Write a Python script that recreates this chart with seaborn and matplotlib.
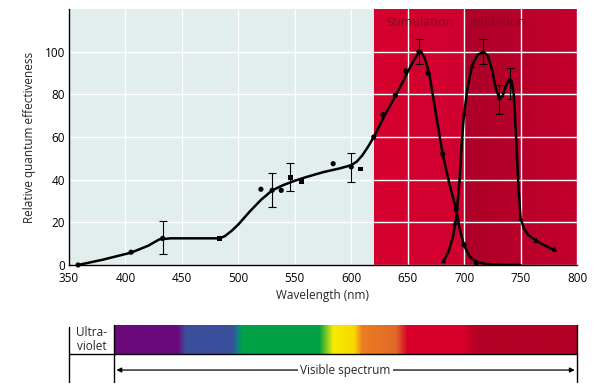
import numpy as np
import pandas as pd
import matplotlib
matplotlib.use("Agg")
import matplotlib.pyplot as plt
import seaborn as sns
from matplotlib.colors import LinearSegmentedColormap, to_rgb

# ---------------- data ----------------
# smooth curve vertices
curve_a_x = [358, 380, 405, 420, 430, 440, 483, 488, 494, 500, 510, 520, 530, 540, 550, 560, 575, 590, 600,
             605, 610, 615, 620, 630, 640, 650, 655, 659, 662, 665, 669, 675, 681, 687, 693, 696, 700,
             705, 711, 720, 735, 750]
curve_a_y = [0, 2.5, 5.8, 9, 12, 12.5, 12.5, 13.5, 16, 19, 25, 30.5, 35, 37.5, 39.5, 41.2, 43.5, 45.3, 46.8,
             48.5, 51.5, 55.5, 60, 70.5, 80, 90.5, 95.5, 99, 100, 97, 90, 71, 52, 38, 26, 17, 9,
             4, 1.3, 0.4, 0.1, 0]
curve_b_x = [682, 686, 690, 693, 696, 698, 700, 703, 707, 712, 717, 721, 725, 728, 731, 734, 737, 740,
             742, 744, 746, 748, 750, 753, 757, 765, 772, 780]
curve_b_y = [2, 6, 13, 22, 40, 58, 71, 83, 93.5, 98.5, 100, 98, 91, 83, 78.5, 79, 84, 87,
             86.5, 80, 60, 38, 22, 17, 14, 11, 9, 7]

# measured points
circ_x = [358, 405, 433, 520, 530, 538, 584, 600, 620, 628, 639, 648, 660, 668, 681, 693, 700, 711]
circ_y = [0, 6, 12.5, 35.5, 35, 35, 47.5, 46, 60, 70.5, 79.5, 91, 100, 90, 52, 26, 9.5, 1]
sq_x = [483, 546, 556, 608]
sq_y = [12.5, 41, 39, 45]
tri_x = [682, 692, 700, 707, 717, 731, 741, 750, 764, 780]
tri_y = [2, 20, 71, 93.5, 100, 78.5, 86.5, 22, 11.5, 7.5]

# error bars
err_x = [433, 530, 546, 600, 660, 717, 731, 741]
err_y = [12.5, 35, 41, 46, 100, 100, 78.5, 86.5]
err_lo = [5, 27, 34.5, 39, 94, 94, 71, 78]
err_hi = [20.5, 43, 48, 52.5, 106, 106, 84.5, 92.5]

x_ticks = [350, 400, 450, 500, 550, 600, 650, 700, 750, 800]
y_ticks = [0, 20, 40, 60, 80, 100]

# background regions
stim_span = [620, 700]
inhib_span = [700, 800]
stim_colors = ["#d6002e", "#cf0030"]
inhib_colors = ["#ad0028", "#c3002c"]
plot_bg = "#e2eded"

# spectrum bar
spec_nm = [390, 446, 453, 494, 499, 503, 572, 584, 603, 610, 640, 650, 700, 712, 800]
spec_col = ["#6a0a7c", "#6a0a7c", "#3a4e9c", "#3a4e9c", "#137d8a", "#00a146", "#00a146", "#f7ec00",
            "#f7d800", "#ea7d22", "#e06a28", "#d8002a", "#d8002a", "#b30024", "#b30024"]

# ---------------- figure ----------------
sns.set_theme(style="white")
plt.rcParams['font.family'] = ['Open Sans', 'DejaVu Sans']

fig = plt.figure(figsize=(6.11, 3.92), dpi=100)
ax = fig.add_axes([69 / 611, 1 - 265 / 392, 508 / 611, 256 / 392])
ax.set_facecolor(plot_bg)

def hgrad(a, c0, c1, x0, x1):
    cm = LinearSegmentedColormap.from_list("g", [c0, c1])
    img = np.linspace(0, 1, 64)[None, :]
    a.imshow(img, cmap=cm, extent=[x0, x1, 0, 120], aspect="auto", zorder=0,
             interpolation="bilinear")

hgrad(ax, stim_colors[0], stim_colors[1], *stim_span)
hgrad(ax, inhib_colors[0], inhib_colors[1], *inhib_span)

ax.set_xlim(350, 800)
ax.set_ylim(0, 120)
ax.set_axisbelow("line")
ax.grid(True, color="white", linewidth=1.0)
ax.set_xticks(x_ticks)
ax.set_yticks(y_ticks)

df_a = pd.DataFrame({"x": curve_a_x, "y": curve_a_y})
df_b = pd.DataFrame({"x": curve_b_x, "y": curve_b_y})
sns.lineplot(data=df_a, x="x", y="y", ax=ax, color="black", linewidth=1.8, sort=False, zorder=3)
sns.lineplot(data=df_b, x="x", y="y", ax=ax, color="black", linewidth=1.8, sort=False, zorder=3)

ax.errorbar(err_x, err_y,
            yerr=[np.array(err_y) - np.array(err_lo), np.array(err_hi) - np.array(err_y)],
            fmt="none", ecolor="black", elinewidth=0.8, capsize=3, capthick=0.8, zorder=3)

sns.scatterplot(x=circ_x, y=circ_y, ax=ax, color="black", marker="o", s=14,
                edgecolor="none", zorder=4, clip_on=False)
sns.scatterplot(x=sq_x, y=sq_y, ax=ax, color="black", marker="s", s=12,
                edgecolor="none", zorder=4, clip_on=False)
sns.scatterplot(x=tri_x, y=tri_y, ax=ax, color="black", marker="^", s=14,
                edgecolor="none", zorder=4, clip_on=False)

ax.text(661, 113.5, "Stimulation", ha="center", va="center", fontsize=9, color="#860a20")
ax.text(729.5, 113.5, "Inhibition", ha="center", va="center", fontsize=9, color="#860a20")

for s in ["top", "right"]:
    ax.spines[s].set_visible(False)
for s in ["left", "bottom"]:
    ax.spines[s].set_color("black")
    ax.spines[s].set_linewidth(1.0)
ax.tick_params(axis="both", length=0, labelsize=8.5, colors="black")
ax.tick_params(axis="x", pad=5)
ax.tick_params(axis="y", pad=3)
ax.set_xlabel("Wavelength (nm)", fontsize=8.5, labelpad=3)
ax.set_ylabel("Relative quantum effectiveness", fontsize=8.5, labelpad=6)

# ---------------- spectrum bar ----------------
sax = fig.add_axes([69 / 611, 1 - 382 / 392, 508 / 611, 57 / 392])
sax.set_xlim(350, 800)
sax.set_ylim(0, 1)
sax.axis("off")
stops = [(n - spec_nm[0]) / (spec_nm[-1] - spec_nm[0]) for n in spec_nm]
spec_cmap = LinearSegmentedColormap.from_list("spec", list(zip(stops, [to_rgb(c) for c in spec_col])))
sax.imshow(np.linspace(0, 1, 512)[None, :], cmap=spec_cmap, aspect="auto",
           extent=[spec_nm[0], spec_nm[-1], 0.49, 1.0], zorder=0, interpolation="bilinear")
sax.plot([350, 350], [0, 0.96], color="black", lw=1.0, clip_on=False)
sax.plot([350, 800], [0.49, 0.49], color="black", lw=1.0, clip_on=False)
sax.plot([spec_nm[0], spec_nm[0]], [0, 1.0], color="black", lw=1.0, clip_on=False)
sax.plot([800, 800], [0, 1.0], color="black", lw=1.0, clip_on=False)
sax.annotate("", xy=(392, 0.21), xytext=(798, 0.21),
             arrowprops=dict(arrowstyle="<|-|>", color="black", lw=0.9, mutation_scale=7,
                             shrinkA=0, shrinkB=0))
sax.text(595, 0.21, "Visible spectrum", ha="center", va="center", fontsize=8.5,
         bbox=dict(facecolor="white", edgecolor="none", pad=1.5))
sax.text(370, 0.745, "Ultra-\nviolet", ha="center", va="center", fontsize=8.5, linespacing=1.05)

fig.savefig("out.png", dpi=100)
